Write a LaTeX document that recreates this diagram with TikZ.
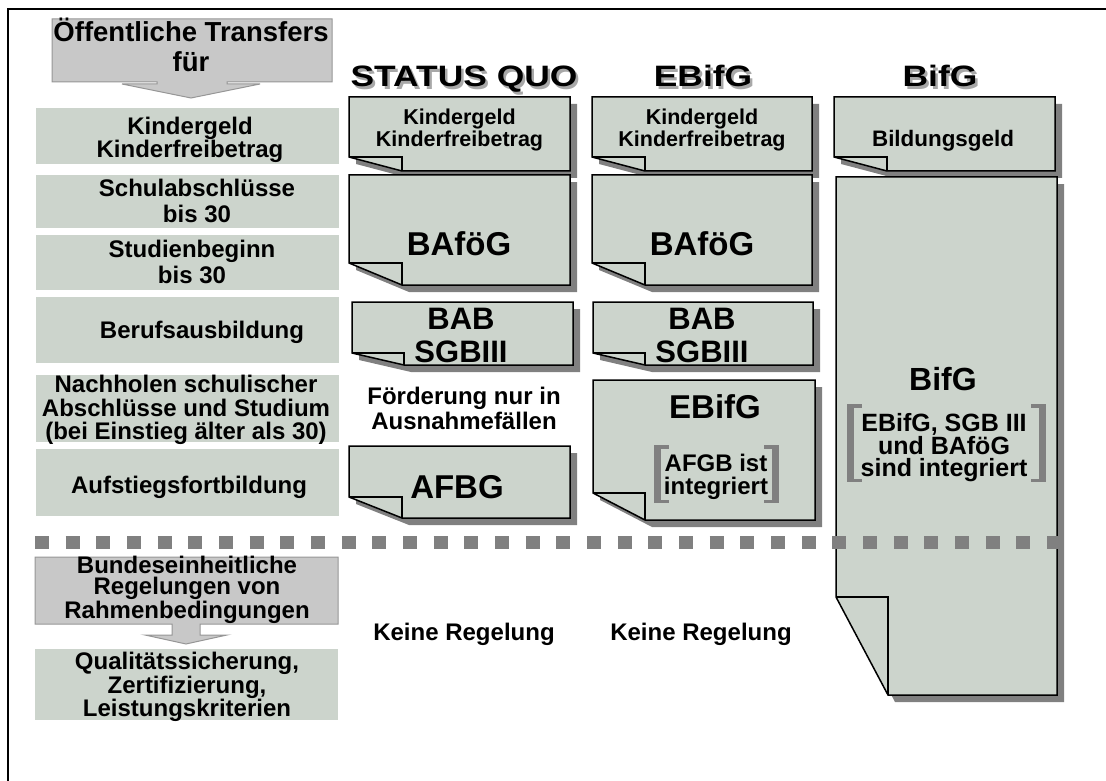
\documentclass[tikz,border=0pt]{standalone}
\usepackage{fontspec}
\setmainfont{Liberation Sans}
\newfontfamily\hdrfont[FakeStretch=1.2]{Liberation Sans Bold}
\usetikzlibrary{calc}
\definecolor{panel}{HTML}{CCD4CC}
\definecolor{callfill}{HTML}{C8C8C8}
\definecolor{callline}{HTML}{969696}
\definecolor{shadowgray}{HTML}{808080}
\definecolor{hdrshadow}{HTML}{A8A8A8}
\newcommand\fsz[2]{\fontsize{#1}{#2}\selectfont}
% header text with offset shadow in one box
\newcommand\shadowtext[1]{\makebox[0pt][l]{\hspace{2.5pt}\raisebox{-2.5pt}{\textcolor{hdrshadow}{#1}}}#1}
% folded note: x1 y1 x2 y2 foldwidth foldheight
\newcommand\foldnote[6]{%
  \fill[shadowgray, shift={(7,7)}] (#1,#2) -- (#3,#2) -- (#3,#4) -- ({#1+#5},#4) -- (#1,{#4-#6}) -- cycle;
  \filldraw[fill=panel, draw=black, line width=1.5pt, line join=miter] (#1,#2) -- (#3,#2) -- (#3,#4) -- ({#1+#5},#4) -- (#1,{#4-#6}) -- cycle;
  \draw[black, line width=1.5pt] (#1,{#4-#6}) -- ({#1+#5},{#4-#6}) -- ({#1+#5},#4);
}
% brackets: x y1 y2
\newcommand\lbrk[3]{%
  \fill[shadowgray] (#1,#2) rectangle ({#1+7},#3);
  \fill[shadowgray] (#1,#2) rectangle ({#1+15},{#2+3.5});
  \fill[shadowgray] (#1,{#3-3.5}) rectangle ({#1+15},#3);
}
\newcommand\rbrk[3]{%
  \fill[shadowgray] ({#1-7},#2) rectangle (#1,#3);
  \fill[shadowgray] ({#1-15},#2) rectangle (#1,{#2+3.5});
  \fill[shadowgray] ({#1-15},{#3-3.5}) rectangle (#1,#3);
}
\begin{document}
\begin{tikzpicture}[x=1pt,y=-1pt,
  every node/.style={inner sep=0pt},
  panelbox/.style={fill=panel, draw=none},
  callbox/.style={fill=callfill, draw=callline, line width=1pt},
  lbl/.style={align=center, font=\bfseries\fsz{24}{23}},
  hdr/.style={anchor=base, font=\hdrfont\fsz{29.5}{30}},
  notetxt/.style={align=center, font=\bfseries\fsz{21.5}{22}},
  bigtxt/.style={anchor=base, font=\bfseries\fsz{33}{33}},
  midtxt/.style={align=center, font=\bfseries\fsz{24}{23}}]
\useasboundingbox (0,0) rectangle (1106,781);
% outer frame
\draw[line width=1.5pt] (8,781) -- (8,9) -- (1106,9);

% title callout
\filldraw[callbox] (52,19) -- (332,19) -- (332,82) -- (227,82) -- (227,84) -- (260,84) -- (191,98) -- (122,84) -- (157,84) -- (157,82) -- (52,82) -- cycle;
\node[align=center, font=\bfseries\fsz{27.5}{30}] (title) at (191,45) {Öffentliche Transfers\\für};

% left panels
\fill[panelbox] (36,108) rectangle (339,164);
\fill[panelbox] (36,175) rectangle (339,228);
\fill[panelbox] (36,235) rectangle (339,290);
\fill[panelbox] (36,297) rectangle (339,363);
\fill[panelbox] (36,375) rectangle (339,442);
\fill[panelbox] (36,449) rectangle (339,516);
\node[lbl, font=\bfseries\fsz{24}{22}] (p1) at (190,139.7) {Kindergeld\\Kinderfreibetrag};
\node[lbl, font=\bfseries\fsz{24}{26}] (p2) at (197,201) {Schulabschlüsse\\bis 30};
\node[lbl, font=\bfseries\fsz{24}{26}] (p3) at (192,262) {Studienbeginn\\bis 30};
\node[anchor=base, font=\bfseries\fsz{24}{24}] (p4) at (202,338) {Berufsausbildung};
\node[lbl, font=\bfseries\fsz{24}{23.5}] (p5) at (186,410) {Nachholen schulischer\\Abschlüsse und Studium\\(bei Einstieg älter als 30)};
\node[anchor=base, font=\bfseries\fsz{24}{24}] (p6) at (189,493) {Aufstiegsfortbildung};

% bottom-left callout and box
\filldraw[callbox] (35,557) -- (338,557) -- (338,624) -- (200,624) -- (200,635) -- (227,635) -- (186,644) -- (145,635) -- (172,635) -- (172,624) -- (35,624) -- cycle;
\node[lbl, font=\bfseries\fsz{24}{21}] (b1) at (187,589.7) {Bundeseinheitliche\\Regelungen von\\Rahmenbedingungen};
\fill[panelbox] (35,649) rectangle (338,720);
\node[lbl, font=\bfseries\fsz{24}{21.5}] (b2) at (187,687) {Qualitätssicherung,\\Zertifizierung,\\Leistungskriterien};

% headers with shadow
\node[hdr] (hsq) at (464,87) {\shadowtext{STATUS QUO}};
\node[hdr] (heb) at (703,87) {\shadowtext{EBifG}};
\node[hdr] (hbg) at (940,87) {\shadowtext{BifG}};

% STATUS QUO column
\foldnote{349}{97}{570}{171}{53}{14}
\foldnote{349}{175}{570}{285}{53}{22}
\foldnote{352}{302}{573}{365}{52}{12}
\foldnote{349}{446}{570}{518}{53}{21}
\node[notetxt] (sq1) at (459.5,130.4) {Kindergeld\\Kinderfreibetrag};
\node[bigtxt] (sq2) at (459,255) {BAföG};
\node[align=center, font=\bfseries\fsz{31}{33}] (sq3) at (461,335.4) {BAB\\SGBIII};
\node[midtxt, font=\bfseries\fsz{24}{25}] (sq4) at (464,408.7) {Förderung nur in\\Ausnahmefällen};
\node[bigtxt] (sq5) at (457,498) {AFBG};
\node[anchor=base, font=\bfseries\fsz{24}{24}] (sq6) at (464,640) {Keine Regelung};

% EBifG column
\foldnote{592}{97}{812}{171}{53}{14}
\foldnote{592}{175}{812}{285}{53}{22}
\foldnote{593}{302}{813}{365}{52}{12}
\foldnote{593}{380}{815}{520}{52}{27}
\node[notetxt] (eb1) at (702,130.4) {Kindergeld\\Kinderfreibetrag};
\node[bigtxt] (eb2) at (702,255) {BAföG};
\node[align=center, font=\bfseries\fsz{31}{33}] (eb3) at (702,335.4) {BAB\\SGBIII};
\node[bigtxt] (eb4) at (715,418) {EBifG};
\lbrk{654}{445}{503}
\rbrk{779}{445}{503}
\node[midtxt] (eb5) at (716,477) {AFGB ist\\integriert};
\node[anchor=base, font=\bfseries\fsz{24}{24}] (eb6) at (701,640) {Keine Regelung};

% BifG column
\foldnote{834}{97}{1055}{171}{53}{14}
\foldnote{836}{177}{1057}{695}{52}{98}
\node[anchor=base, font=\bfseries\fsz{22.4}{24}] (bg1) at (943,147) {Bildungsgeld};
\node[anchor=base, font=\bfseries\fsz{32}{32}] (bg2) at (943,390) {BifG};
\lbrk{847}{404}{482}
\rbrk{1046}{404}{482}
\node[align=center, font=\bfseries\fsz{25}{22.5}] (bg3) at (944,448) {EBifG, SGB III\\und BAföG\\sind integriert};

% dotted separator
\draw[shadowgray, line width=13pt, dash pattern=on 14pt off 16.67pt] (35,542.5) -- (1061,542.5);
\end{tikzpicture}
\end{document}
